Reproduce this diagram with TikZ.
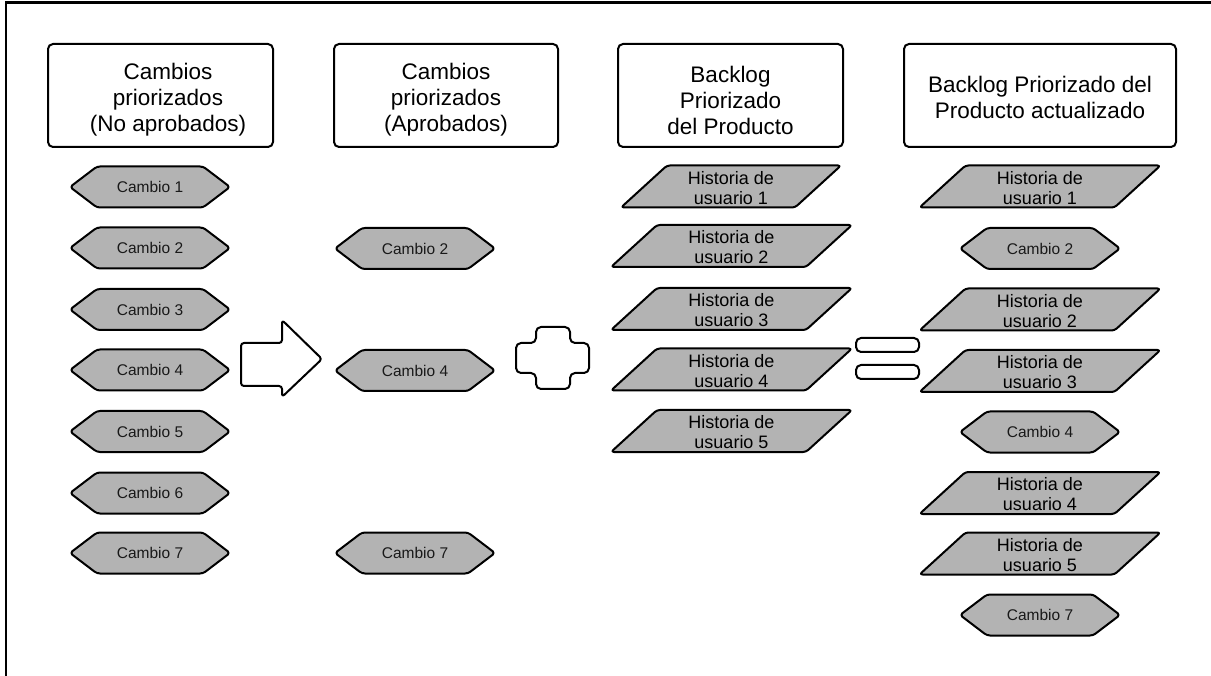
\documentclass[tikz,border=0pt]{standalone}
\usepackage{fontspec}
\setmainfont{Liberation Sans}
\definecolor{shapegray}{RGB}{179,179,179}
\tikzset{
  frameline/.style={line width=2.5pt, line cap=rect},
  headbox/.style={draw=black, line width=2pt, rounded corners=5pt},
  headtext/.style={align=center, font=\fontsize{22.5}{26}\selectfont, inner sep=0pt},
  hexsty/.style={draw=black, fill=shapegray, line width=2pt, rounded corners=3pt, line join=round},
  hextext/.style={font=\fontsize{15.5}{18}\selectfont, inner sep=0pt, text=black!90},
  parasty/.style={draw=black, fill=shapegray, line width=2pt, rounded corners=3pt, line join=round},
  paratext/.style={align=center, font=\fontsize{18}{20}\selectfont, inner sep=0pt},
  symsty/.style={draw=black, fill=white, line width=2pt, rounded corners=5pt, line join=round},
}
\newcommand\hexnode[4]{%
  \draw[hexsty] (#2-80,#3) -- (#2-53,#3-20.5) -- (#2+53,#3-20.5) -- (#2+80,#3) -- (#2+53,#3+20.5) -- (#2-53,#3+20.5) -- cycle;
  \node[hextext] (#1) at (#2,#3) {#4};}
\newcommand\paranode[5]{%
  \draw[parasty] (#2-#4,#3+21) -- (#2-#4+46,#3-21) -- (#2+#4,#3-21) -- (#2+#4-46,#3+21) -- cycle;
  \node[paratext] (#1) at (#2,#3+1.5) {#5};}
\begin{document}
\begin{tikzpicture}[x=1pt,y=-1pt]
\useasboundingbox (0,0) rectangle (1211,676);
% frame
\draw[frameline] (6,676) -- (6,2.5) -- (1211,2.5);
% headers
\draw[headbox] (48,44) rectangle (273,147);
\node[headtext] (h1) at (168,100) {Cambios\\priorizados\\(No aprobados)};
\draw[headbox] (334,44) rectangle (558,147);
\node[headtext] (h2) at (446,100) {Cambios\\priorizados\\(Aprobados)};
\draw[headbox] (618,44) rectangle (843,147);
\node[headtext] (h3) at (730.5,100) {Backlog\\Priorizado\\del Producto};
\draw[headbox] (904,44) rectangle (1176,147);
\node[headtext] (h4) at (1040,97) {Backlog Priorizado del\\Producto actualizado};
% column 1
\hexnode{a1}{150}{187}{Cambio 1}
\hexnode{a2}{150}{248}{Cambio 2}
\hexnode{a3}{150}{309.5}{Cambio 3}
\hexnode{a4}{150}{370}{Cambio 4}
\hexnode{a5}{150}{431.5}{Cambio 5}
\hexnode{a6}{150}{493}{Cambio 6}
\hexnode{a7}{150}{553}{Cambio 7}
% column 2
\hexnode{b2}{415}{248.5}{Cambio 2}
\hexnode{b4}{415}{370.5}{Cambio 4}
\hexnode{b7}{415}{553}{Cambio 7}
% column 3
\paranode{c1}{731}{186.5}{110}{Historia de\\usuario 1}
\paranode{c2}{731.5}{246}{120.5}{Historia de\\usuario 2}
\paranode{c3}{731.5}{309}{120.5}{Historia de\\usuario 3}
\paranode{c4}{731.5}{369.5}{120.5}{Historia de\\usuario 4}
\paranode{c5}{731.5}{431}{120.5}{Historia de\\usuario 5}
% column 4
\paranode{d1}{1040}{186.5}{120.5}{Historia de\\usuario 1}
\hexnode{d2}{1040}{248.5}{Cambio 2}
\paranode{d3}{1040}{309.5}{120.5}{Historia de\\usuario 2}
\paranode{d4}{1040}{371}{120.5}{Historia de\\usuario 3}
\hexnode{d5}{1040}{432}{Cambio 4}
\paranode{d6}{1040}{493}{120.5}{Historia de\\usuario 4}
\paranode{d7}{1040}{553.5}{120.5}{Historia de\\usuario 5}
\hexnode{d8}{1040}{615}{Cambio 7}
% arrow
\draw[symsty, rounded corners=3pt] (241,343) -- (282,343) -- (282,320) -- (322,359) -- (282,397) -- (282,386) -- (241,386) -- cycle;
% plus
\draw[symsty] (536,327) -- (570,327) -- (570,343) -- (589,343) -- (589,373) -- (570,373) -- (570,389) -- (536,389) -- (536,373) -- (516,373) -- (516,343) -- (536,343) -- cycle;
% equals
\draw[symsty] (856,338) rectangle (919,352);
\draw[symsty] (856,365) rectangle (919,379);
\end{tikzpicture}
\end{document}
